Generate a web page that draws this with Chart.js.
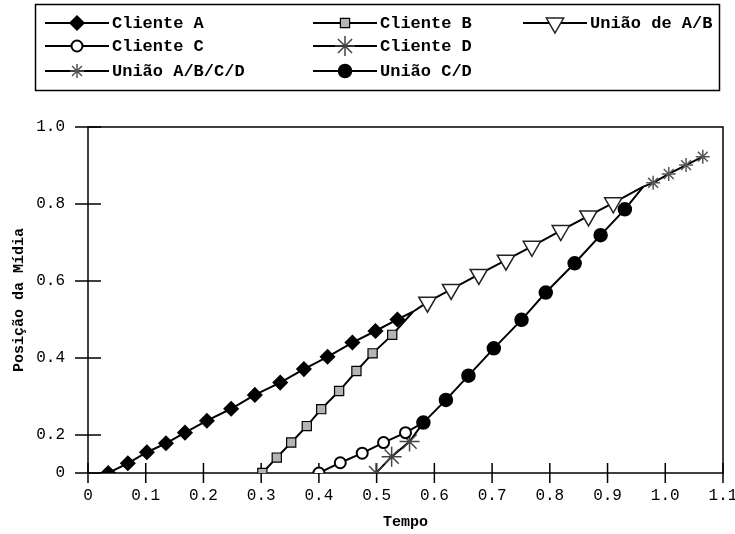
<!DOCTYPE html>
<html lang="pt">
<head>
  <meta charset="UTF-8">
  <title>Posição da Mídia x Tempo</title>
  <script src="https://cdn.jsdelivr.net/npm/chart.js"></script>
  <style>
    body {
      margin: 0;
      background: #ffffff;
    }
    .chart-wrap {
      width: 735px;
      height: 534px;
    }
  </style>
</head>
<body>
  <div class="chart-wrap">
    <canvas id="posChart" width="735" height="534"></canvas>
  </div>

  <script>
    // Ticks
    const xTickValues = [0, 0.1, 0.2, 0.3, 0.4, 0.5, 0.6, 0.7, 0.8, 0.9, 1.0, 1.1];
    const xTickLabels = ['0', '0.1', '0.2', '0.3', '0.4', '0.5', '0.6', '0.7', '0.8', '0.9', '1.0', '1.1'];
    const yTickValues = [0, 0.2, 0.4, 0.6, 0.8, 1.0];
    const yTickLabels = ['0', '0.2', '0.4', '0.6', '0.8', '1.0'];

    // Series (tempo, posição)
    const clienteAX = [0.035, 0.069, 0.102, 0.135, 0.168, 0.206, 0.248, 0.289, 0.333, 0.374, 0.415, 0.458, 0.498, 0.536, 0.563];
    const clienteAY = [0, 0.051, 0.109, 0.156, 0.206, 0.237, 0.268, 0.304, 0.336, 0.371, 0.403, 0.440, 0.470, 0.500, 0.520];

    const clienteBX = [0.302, 0.327, 0.352, 0.379, 0.404, 0.435, 0.465, 0.493, 0.527, 0.563];
    const clienteBY = [0, 0.081, 0.160, 0.223, 0.267, 0.314, 0.366, 0.412, 0.460, 0.520];

    const uniaoABX = [0.563, 0.588, 0.629, 0.677, 0.724, 0.769, 0.819, 0.867, 0.910, 0.962];
    const uniaoABY = [0.520, 0.545, 0.578, 0.617, 0.654, 0.690, 0.731, 0.769, 0.803, 0.845];

    const clienteCX = [0.400, 0.437, 0.475, 0.512, 0.550, 0.581];
    const clienteCY = [0, 0.054, 0.104, 0.160, 0.206, 0.232];

    const clienteDX = [0.499, 0.526, 0.557, 0.581];
    const clienteDY = [0, 0.086, 0.165, 0.232];

    const uniaoABCDX = [0.962, 0.979, 1.006, 1.036, 1.065];
    const uniaoABCDY = [0.845, 0.855, 0.878, 0.901, 0.923];

    const uniaoCDX = [0.581, 0.620, 0.659, 0.703, 0.751, 0.793, 0.843, 0.888, 0.930, 0.962];
    const uniaoCDY = [0.232, 0.291, 0.354, 0.425, 0.499, 0.570, 0.646, 0.719, 0.786, 0.845];

    // junction points (where series meet) get no marker
    const noMarkA = [14];
    const noMarkB = [9];
    const noMarkAB = [0, 9];
    const noMarkC = [5];
    const noMarkD = [3];
    const noMarkABCD = [0];
    const noMarkCD = [9];

    // y axis is compressed between 0 and 0.2, like the original figure
    const Y_SPLIT = 0.2;
    const Y_SPLIT_DEC = 0.11;

    class BrokenYScale extends Chart.LinearScale {
      getPixelForValue(value) {
        if (value === null || value === undefined) return NaN;
        let dec;
        if (value <= Y_SPLIT) dec = value / Y_SPLIT * Y_SPLIT_DEC;
        else dec = Y_SPLIT_DEC + (value - Y_SPLIT) / (this.max - Y_SPLIT) * (1 - Y_SPLIT_DEC);
        return this.getPixelForDecimal(dec);
      }
      getValueForPixel(pixel) {
        const dec = this.getDecimalForPixel(pixel);
        if (dec <= Y_SPLIT_DEC) return dec / Y_SPLIT_DEC * Y_SPLIT;
        return Y_SPLIT + (dec - Y_SPLIT_DEC) / (1 - Y_SPLIT_DEC) * (this.max - Y_SPLIT);
      }
    }
    BrokenYScale.id = 'brokenY';
    BrokenYScale.defaults = Chart.LinearScale.defaults;
    Chart.register(BrokenYScale);

    function toPoints(xs, ys) {
      return xs.map((x, i) => ({ x: x, y: ys[i] }));
    }

    function series(label, xs, ys, noMark, style) {
      return Object.assign({
        label: label,
        data: toPoints(xs, ys),
        borderColor: '#000',
        borderWidth: 2,
        fill: false,
        tension: 0,
        pointBorderColor: '#000',
        pointBorderWidth: 1.5,
        pointRadius: xs.map((_, i) => noMark.includes(i) ? 0 : style.radius)
      }, style);
    }

    const datasets = [
      series('Cliente A', clienteAX, clienteAY, noMarkA,
        { pointStyle: 'rectRot', radius: 7, pointBackgroundColor: '#000' }),
      series('Cliente B', clienteBX, clienteBY, noMarkB,
        { pointStyle: 'rect', radius: 6.5, pointBackgroundColor: '#b4b4b4', pointBorderWidth: 1.2 }),
      series('União de A/B', uniaoABX, uniaoABY, noMarkAB,
        { pointStyle: 'triangle', radius: 10, pointRotation: 180, pointBackgroundColor: '#fff', pointBorderColor: '#222' }),
      series('Cliente C', clienteCX, clienteCY, noMarkC,
        { pointStyle: 'circle', radius: 5.5, pointBackgroundColor: '#fff', pointBorderWidth: 2 }),
      series('Cliente D', clienteDX, clienteDY, noMarkD,
        { pointStyle: 'star', radius: 10, pointBackgroundColor: '#fff', pointBorderColor: '#444', pointBorderWidth: 1.5 }),
      series('União A/B/C/D', uniaoABCDX, uniaoABCDY, noMarkABCD,
        { pointStyle: 'star', radius: 7, pointBackgroundColor: '#fff', pointBorderColor: '#555', pointBorderWidth: 1.5 }),
      series('União C/D', uniaoCDX, uniaoCDY, noMarkCD,
        { pointStyle: 'circle', radius: 6.5, pointBackgroundColor: '#000' })
    ];

    // legend box drawn by hand: 3 columns, 3 rows
    const legendCol = [0, 1, 2, 0, 1, 0, 1];
    const legendRow = [0, 0, 0, 1, 1, 2, 2];

    const boxLegend = {
      id: 'boxLegend',
      afterDraw(chart) {
        const c = chart.ctx;
        const colX = [45, 313, 523];
        const rowY = [23, 46, 71];
        c.save();
        c.strokeStyle = '#000';
        c.lineWidth = 1.5;
        c.strokeRect(35.5, 4.5, 684, 86);
        chart.data.datasets.forEach((ds, i) => {
          const x0 = colX[legendCol[i]];
          const y = rowY[legendRow[i]];
          c.beginPath();
          c.moveTo(x0, y);
          c.lineTo(x0 + 64, y);
          c.lineWidth = 2;
          c.strokeStyle = '#000';
          c.stroke();
          c.fillStyle = ds.pointBackgroundColor;
          c.strokeStyle = ds.pointBorderColor;
          c.lineWidth = ds.pointBorderWidth;
          Chart.helpers.drawPoint(c, {
            pointStyle: ds.pointStyle,
            radius: ds.radius,
            rotation: ds.pointRotation || 0,
            borderWidth: ds.pointBorderWidth
          }, x0 + 32, y);
          c.fillStyle = '#000';
          c.font = 'bold 17px "Liberation Mono"';
          c.textBaseline = 'middle';
          c.fillText(ds.label, x0 + 67, y + 1);
        });
        c.restore();
      }
    };

    // frame round the plot and ticks that cross the axes
    const frameTicks = {
      id: 'frameTicks',
      beforeDatasetsDraw(chart) {
        const c = chart.ctx;
        const a = chart.chartArea;
        const xs = chart.scales.x;
        const ys = chart.scales.y;
        c.save();
        c.strokeStyle = '#000';
        c.lineWidth = 1.5;
        c.strokeRect(a.left, a.top, a.right - a.left, a.bottom - a.top);
        c.beginPath();
        xs.ticks.forEach((t, i) => {
          const px = xs.getPixelForTick(i);
          c.moveTo(px, a.bottom - 10);
          c.lineTo(px, a.bottom + 10);
        });
        ys.ticks.forEach((t, i) => {
          const py = ys.getPixelForTick(i);
          c.moveTo(a.left - 13, py);
          c.lineTo(a.left + 13, py);
        });
        c.stroke();
        c.restore();
      }
    };

    const tickFont = { family: '"Liberation Mono", monospace', size: 16 };
    const titleFont = { family: '"Liberation Mono", monospace', size: 15, weight: 'bold' };

    new Chart(document.getElementById('posChart').getContext('2d'), {
      type: 'line',
      data: { datasets: datasets },
      options: {
        responsive: false,
        animation: false,
        devicePixelRatio: 1,
        layout: { padding: { top: 127, right: 12, left: 0, bottom: 0 } },
        plugins: {
          legend: { display: false },
          tooltip: { enabled: false }
        },
        scales: {
          x: {
            type: 'linear',
            min: 0,
            max: 1.1,
            grid: { display: false, drawTicks: false },
            border: { display: false },
            afterBuildTicks: s => { s.ticks = xTickValues.map(v => ({ value: v })); },
            afterFit: s => {
              s.height = 61;
              s.paddingLeft = 0; s.paddingRight = 0;
            },
            ticks: {
              color: '#000',
              font: tickFont,
              padding: 13,
              maxRotation: 0,
              autoSkip: false,
              callback: (v, i) => xTickLabels[i]
            },
            title: {
              display: true,
              text: 'Tempo',
              color: '#000',
              font: titleFont,
              padding: { top: 0, bottom: 3 }
            }
          },
          y: {
            type: 'brokenY',
            min: 0,
            max: 1.0,
            grid: { display: false, drawTicks: false },
            border: { display: false },
            afterBuildTicks: s => { s.ticks = yTickValues.map(v => ({ value: v })); },
            afterFit: s => {
              s.width = 88;
              s.paddingTop = 0; s.paddingBottom = 0;
            },
            ticks: {
              color: '#000',
              font: tickFont,
              padding: 23,
              autoSkip: false,
              callback: (v, i) => yTickLabels[i]
            },
            title: {
              display: true,
              text: 'Posição da Mídia',
              color: '#000',
              font: titleFont,
              padding: { top: 10, bottom: 0 }
            }
          }
        }
      },
      plugins: [frameTicks, boxLegend]
    });
  </script>
</body>
</html>
